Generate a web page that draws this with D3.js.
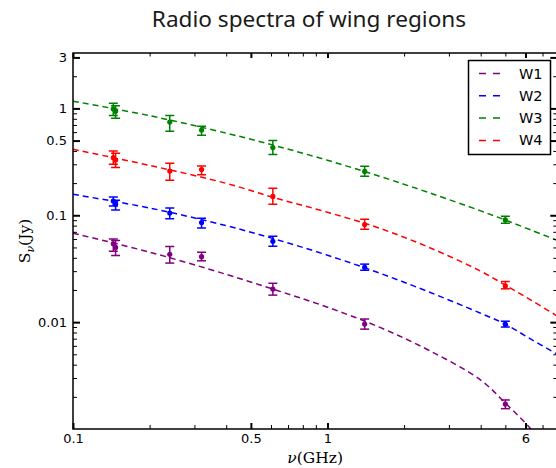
<!DOCTYPE html>
<html>
<head>
<meta charset="utf-8">
<script src="https://cdn.jsdelivr.net/npm/d3@7"></script>
<style>
  html, body { margin: 0; padding: 0; background: #fff; }
  svg { display: block; }
</style>
</head>
<body>
<svg id="chart" width="556" height="468"></svg>
<script>
// ---------------- data ----------------
const seriesNames = ["W1", "W2", "W3", "W4"];
const seriesColors = ["#800080", "#0000ff", "#008000", "#ff0000"];

// measured flux densities (Jy) with error bounds
const freqs = [0.144, 0.147, 0.24, 0.32, 0.61, 1.4, 5.0];
const w1    = [0.054, 0.050, 0.0432, 0.041, 0.0204, 0.0096, 0.00171];
const w1Lo  = [0.046, 0.042, 0.0357, 0.0375, 0.0179, 0.0086, 0.00155];
const w1Hi  = [0.060, 0.058, 0.051, 0.045, 0.0231, 0.0107, 0.00187];
const w2    = [0.136, 0.127, 0.105, 0.0854, 0.057, 0.0326, 0.00955];
const w2Lo  = [0.122, 0.112, 0.093, 0.076, 0.0513, 0.0306, 0.0090];
const w2Hi  = [0.148, 0.138, 0.117, 0.094, 0.0636, 0.0349, 0.0102];
const w3    = [0.99, 0.94, 0.745, 0.627, 0.43, 0.257, 0.0905];
const w3Lo  = [0.86, 0.81, 0.61, 0.56, 0.37, 0.232, 0.084];
const w3Hi  = [1.12, 1.06, 0.86, 0.68, 0.50, 0.287, 0.098];
const w4    = [0.346, 0.329, 0.259, 0.268, 0.150, 0.082, 0.0218];
const w4Lo  = [0.30, 0.28, 0.213, 0.24, 0.127, 0.0741, 0.0205];
const w4Hi  = [0.40, 0.38, 0.306, 0.289, 0.179, 0.0919, 0.024];

// fitted model curves (dashed)
const fitFreqs = [0.1, 0.2, 0.4, 0.63, 1, 1.6, 2.5, 4, 5, 6.3, 8];
const fitW1 = [0.0679, 0.0452, 0.0280, 0.0199, 0.0138, 0.00897, 0.00546, 0.00287, 0.00175, 0.00100, 0.00050];
const fitW2 = [0.157, 0.117, 0.0799, 0.0593, 0.0423, 0.0288, 0.0192, 0.0121, 0.00956, 0.00693, 0.0050];
const fitW3 = [1.17, 0.855, 0.587, 0.445, 0.327, 0.232, 0.163, 0.110, 0.0902, 0.0728, 0.0582];
const fitW4 = [0.414, 0.293, 0.199, 0.144, 0.1067, 0.0757, 0.0502, 0.030, 0.0222, 0.0161, 0.0114];

// axis ticks
const xMajor = [0.1, 0.5, 1, 6];
const xMinor = [0.2, 0.3, 0.4, 0.6, 0.7, 0.8, 0.9, 2, 3, 4, 5, 7, 8];
const yMajor = [3, 1, 0.5, 0.1, 0.01];
const yMinor = [2, 0.9, 0.8, 0.7, 0.6, 0.4, 0.3, 0.2,
                0.09, 0.08, 0.07, 0.06, 0.05, 0.04, 0.03, 0.02,
                0.009, 0.008, 0.007, 0.006, 0.005, 0.004, 0.003, 0.002];

const title = "Radio spectra of wing regions";

// ---------------- layout ----------------
const L = 73, R = 557.3, T = 53, B = 429;
const svg = d3.select("#chart");

const x = d3.scaleLog().domain([0.1, 8]).range([L, R]);
const y = d3.scaleLog().domain([0.001, 3.3]).range([B, T]);

const fmt = d => String(d);

// clip
svg.append("defs").append("clipPath").attr("id", "plotclip")
  .append("rect").attr("x", L).attr("y", T).attr("width", R - L).attr("height", B - T);

// title
svg.append("text")
  .attr("x", 309).attr("y", 27)
  .attr("text-anchor", "middle")
  .style("font-family", "'Noto Sans', Roboto, sans-serif")
  .style("font-size", "22.6px")
  .style("fill", "#1a1a1a")
  .text(title);

// ---------------- data marks ----------------
const series = [
  {name: seriesNames[0], color: seriesColors[0], v: w1, lo: w1Lo, hi: w1Hi, fit: fitW1},
  {name: seriesNames[1], color: seriesColors[1], v: w2, lo: w2Lo, hi: w2Hi, fit: fitW2},
  {name: seriesNames[2], color: seriesColors[2], v: w3, lo: w3Lo, hi: w3Hi, fit: fitW3},
  {name: seriesNames[3], color: seriesColors[3], v: w4, lo: w4Lo, hi: w4Hi, fit: fitW4}
];

const plot = svg.append("g").attr("clip-path", "url(#plotclip)");

const line = d3.line()
  .x(d => x(d[0]))
  .y(d => y(d[1]))
  .curve(d3.curveCatmullRom.alpha(0.5));

series.forEach(s => {
  plot.append("path")
    .datum(fitFreqs.map((f, i) => [f, s.fit[i]]))
    .attr("d", line)
    .attr("fill", "none")
    .attr("stroke", s.color)
    .attr("stroke-width", 1.5)
    .attr("stroke-dasharray", "6,4");
});

series.forEach(s => {
  const g = plot.append("g");
  const pts = freqs.map((f, i) => ({f, v: s.v[i], lo: s.lo[i], hi: s.hi[i]}));
  const cap = 4.5;
  g.selectAll("line.eb").data(pts).enter().append("line")
    .attr("x1", d => x(d.f)).attr("x2", d => x(d.f))
    .attr("y1", d => y(d.lo)).attr("y2", d => y(d.hi))
    .attr("stroke", s.color).attr("stroke-width", 1.5);
  g.selectAll("line.capt").data(pts).enter().append("line")
    .attr("x1", d => x(d.f) - cap).attr("x2", d => x(d.f) + cap)
    .attr("y1", d => y(d.hi)).attr("y2", d => y(d.hi))
    .attr("stroke", s.color).attr("stroke-width", 1.5);
  g.selectAll("line.capb").data(pts).enter().append("line")
    .attr("x1", d => x(d.f) - cap).attr("x2", d => x(d.f) + cap)
    .attr("y1", d => y(d.lo)).attr("y2", d => y(d.lo))
    .attr("stroke", s.color).attr("stroke-width", 1.5);
  g.selectAll("circle").data(pts).enter().append("circle")
    .attr("cx", d => x(d.f)).attr("cy", d => y(d.v))
    .attr("r", 2.6).attr("fill", s.color);
});

// ---------------- axes ----------------
const tickFont = "'DejaVu Sans', sans-serif";

function styleAxis(g, w) {
  g.select(".domain").remove();
  g.selectAll(".tick line").attr("stroke", "#000").attr("stroke-width", w);
  g.selectAll(".tick text")
    .style("font-family", tickFont).style("font-size", "13px").attr("fill", "#000");
}

// bottom
const gxb = svg.append("g").attr("transform", `translate(0,${B})`)
  .call(d3.axisBottom(x).tickValues(xMajor).tickFormat(fmt).tickSize(-6).tickPadding(5));
styleAxis(gxb, 2);
const gxbm = svg.append("g").attr("transform", `translate(0,${B})`)
  .call(d3.axisBottom(x).tickValues(xMinor).tickFormat("").tickSize(-4));
styleAxis(gxbm, 1);
// top
const gxt = svg.append("g").attr("transform", `translate(0,${T})`)
  .call(d3.axisTop(x).tickValues(xMajor).tickFormat("").tickSize(-5));
styleAxis(gxt, 2);
const gxtm = svg.append("g").attr("transform", `translate(0,${T})`)
  .call(d3.axisTop(x).tickValues(xMinor).tickFormat("").tickSize(-3.5));
styleAxis(gxtm, 1);
// left
const gyl = svg.append("g").attr("transform", `translate(${L},0)`)
  .call(d3.axisLeft(y).tickValues(yMajor).tickFormat(fmt).tickSize(-7).tickPadding(6));
styleAxis(gyl, 2);
const gylm = svg.append("g").attr("transform", `translate(${L},0)`)
  .call(d3.axisLeft(y).tickValues(yMinor).tickFormat("").tickSize(-4));
styleAxis(gylm, 1);
// right
const gyr = svg.append("g").attr("transform", `translate(${R},0)`)
  .call(d3.axisRight(y).tickValues(yMajor).tickFormat("").tickSize(-7));
styleAxis(gyr, 2);
const gyrm = svg.append("g").attr("transform", `translate(${R},0)`)
  .call(d3.axisRight(y).tickValues(yMinor).tickFormat("").tickSize(-4));
styleAxis(gyrm, 1);

// frame
svg.append("rect")
  .attr("x", L).attr("y", T).attr("width", R - L).attr("height", B - T)
  .attr("fill", "none").attr("stroke", "#000").attr("stroke-width", 1.5);

// axis labels
const xl = svg.append("text")
  .attr("x", (L + R) / 2).attr("y", 463)
  .attr("text-anchor", "middle")
  .style("font-family", "'DejaVu Serif', serif")
  .style("font-size", "15.5px");
xl.append("tspan").style("font-style", "italic").text("ν");
xl.append("tspan").text("(GHz)");

const yl = svg.append("text")
  .attr("transform", `translate(30,${(T + B) / 2}) rotate(-90)`)
  .attr("text-anchor", "middle")
  .style("font-family", "'DejaVu Serif', serif")
  .style("font-size", "15.5px");
yl.append("tspan").text("S");
yl.append("tspan").attr("dy", 4).style("font-size", "11px").style("font-style", "italic").text("ν");
yl.append("tspan").attr("dy", -4).text("(Jy)");

// ---------------- legend ----------------
const lg = svg.append("g");
lg.append("rect")
  .attr("x", 468.5).attr("y", 60.5).attr("width", 82).attr("height", 94)
  .attr("fill", "#fff").attr("stroke", "#000").attr("stroke-width", 1.5);
series.forEach((s, i) => {
  const cy = 73.5 + i * 22.3;
  lg.append("line")
    .attr("x1", 479).attr("x2", 500).attr("y1", cy).attr("y2", cy)
    .attr("stroke", s.color).attr("stroke-width", 1.5)
    .attr("stroke-dasharray", "7,7");
  lg.append("text")
    .attr("x", 519).attr("y", cy + 5)
    .style("font-family", tickFont).style("font-size", "14.5px")
    .text(s.name);
});
</script>
</body>
</html>
